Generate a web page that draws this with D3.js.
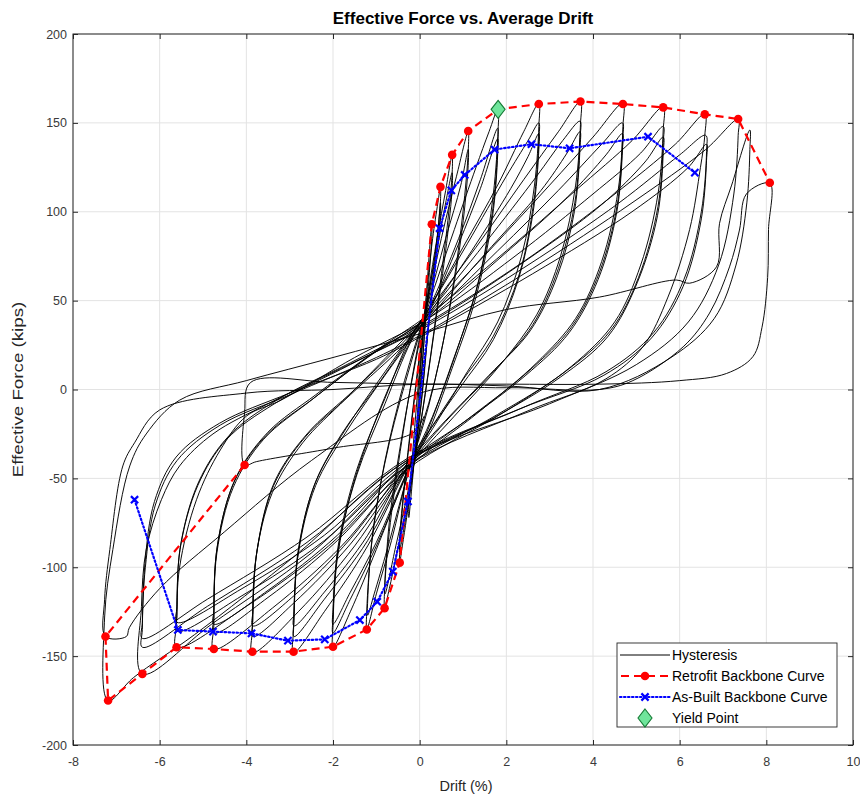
<!DOCTYPE html>
<html><head><meta charset="utf-8">
<script src="https://cdn.jsdelivr.net/npm/d3@7"></script>
<style>
body{margin:0;background:#fff}
svg{display:block}
text{font-family:"Liberation Sans",Arial,Helvetica,sans-serif}
</style>
</head><body>
<svg id="chart" width="860" height="796"></svg>
<script>
// ---------- data ----------
const xTicks = [-8,-6,-4,-2,0,2,4,6,8,10];
const yTicks = [-200,-150,-100,-50,0,50,100,150,200];

const retrofitDrift = [-4.04,-7.25,-7.19,-6.40,-5.61,-4.75,-3.86,-2.91,-2.00,-1.22,-0.81,-0.46,0.28,0.48,0.75,1.12,1.81,2.75,3.71,4.69,5.62,6.58,7.35,8.08];
const retrofitForce = [-42.5,-139,-175,-160,-145,-146,-147.5,-147.5,-144.7,-135,-123,-97.4,93,114,132,145.4,157.6,160.6,162,160.6,158.7,154.8,152.2,116.3];

const asBuiltDrift = [-6.58,-5.58,-4.77,-3.88,-3.04,-2.19,-1.38,-0.98,-0.62,-0.27,0.46,0.73,1.04,1.73,2.58,3.46,5.27,6.35];
const asBuiltForce = [-62,-135.3,-136.2,-137.2,-141.3,-140.6,-129.7,-119.4,-102.5,-63,90.7,112,120.7,135,138,135.7,142.2,122];

const yieldDrift = [1.81];
const yieldForce = [157.6];

const legendLabels = ["Hysteresis","Retrofit Backbone Curve","As-Built Backbone Curve","Yield Point"];

// hysteresis trace: [drift %, force kips], in loading order
const hysteresis = [
[0,0],[0.05,22],[0.1,38],[0.08,30],[0,8],[-0.06,-18],[-0.12,-42],[-0.1,-35],[0,-8],[0.08,20],
[0.18,62],[0.28,93],[0.28,86],[0.2,58],[0.05,12],[-0.1,-33],[-0.2,-60],[-0.25,-72],[-0.25,-65],
[-0.15,-32],[0,12],[0.15,52],[0.3,85],[0.42,105],[0.48,114],[0.48,106],
[0.38,80],[0.22,40],[0.05,-5],[-0.15,-45],[-0.3,-72],[-0.4,-88],[-0.46,-97],[-0.46,-89],
[-0.38,-62],[-0.2,-22],[0,18],[0.2,52],[0.4,84],[0.48,105],[0.48,98],
[0.38,74],[0.2,35],[0.03,-8],[-0.17,-48],[-0.32,-72],[-0.46,-90],[-0.46,-83],
[-0.38,-60],[-0.2,-20],[0,20],[0.2,55],[0.4,85],[0.6,112],[0.75,132],[0.75,122],
[0.65,95],[0.45,55],[0.2,10],[-0.05,-30],[-0.3,-65],[-0.55,-95],[-0.7,-112],[-0.81,-123],[-0.81,-113],
[-0.7,-80],[-0.45,-35],[-0.15,10],[0.1,42],[0.35,72],[0.6,105],[0.75,122],[0.75,113],
[0.62,82],[0.35,35],[0.05,-15],[-0.25,-55],[-0.55,-88],[-0.8,-115],[-0.8,-107],
[-0.68,-70],[-0.4,-25],[-0.1,15],[0.15,45],[0.5,85],[0.85,120],[1.12,145],[1.12,134],
[1.0,100],[0.75,55],[0.35,5],[-0.25,-45],[-0.65,-85],[-1.0,-115],[-1.22,-135],[-1.22,-124],
[-1.1,-85],[-0.8,-40],[-0.35,5],[0.15,45],[0.6,85],[0.95,115],[1.12,135],[1.12,126],
[0.98,90],[0.65,40],[0.2,-10],[-0.3,-50],[-0.75,-90],[-1.05,-115],[-1.2,-127],[-1.2,-119],
[-1.07,-78],[-0.7,-30],[-0.2,15],[0.2,47],[0.8,90],[1.3,125],[1.6,145],[1.81,158],[1.81,146],
[1.7,110],[1.4,65],[0.9,25],[0.3,-15],[-0.3,-47],[-1.0,-90],[-1.6,-125],[-2.0,-145],[-2.0,-133],
[-1.9,-95],[-1.55,-55],[-0.9,-10],[-0.2,28],[0.2,45],[0.9,85],[1.4,118],[1.8,147],[1.8,137],
[1.68,100],[1.3,55],[0.75,15],[0.15,-25],[-0.3,-48],[-1.0,-88],[-1.6,-118],[-2.0,-137],[-2.0,-128],
[-1.88,-90],[-1.45,-48],[-0.8,-8],[-0.2,27],[0.2,43],[0.9,82],[1.4,113],[1.8,141],[1.8,132],
[1.68,97],[1.3,52],[0.75,12],[0.15,-27],[-0.3,-47],[-1.0,-86],[-1.6,-114],[-2.0,-132],[-2.0,-124],
[-1.88,-88],[-1.45,-45],[-0.8,-5],[-0.2,30],[0.2,45],[1.0,80],[1.8,115],[2.4,145],[2.75,161],[2.75,148],
[2.65,115],[2.35,75],[1.8,38],[1.1,10],[0.3,-22],[-0.3,-45],[-1.2,-88],[-2.2,-125],[-2.91,-148],[-2.91,-135],
[-2.82,-95],[-2.45,-55],[-1.8,-25],[-0.9,5],[0.2,45],[1.1,82],[2.0,120],[2.5,140],[2.75,150],[2.75,140],
[2.63,105],[2.3,65],[1.7,30],[0.9,2],[-0.3,-44],[-1.2,-85],[-2.2,-118],[-2.9,-139],[-2.9,-130],
[-2.8,-92],[-2.4,-54],[-1.7,-24],[-0.8,8],[0.2,42],[1.2,78],[2.1,113],[2.5,131],[2.75,144],[2.75,135],
[2.62,100],[2.28,62],[1.7,28],[0.9,0],[-0.3,-42],[-1.2,-82],[-2.2,-114],[-2.9,-133],[-2.9,-125],
[-2.8,-90],[-2.4,-52],[-1.7,-22],[-0.8,10],[0.2,44],[1.3,80],[2.4,118],[3.2,145],[3.71,162],[3.71,149],
[3.6,115],[3.25,75],[2.7,42],[1.9,15],[0.8,-15],[-0.3,-45],[-1.5,-88],[-2.8,-125],[-3.86,-148],[-3.86,-135],
[-3.78,-95],[-3.4,-58],[-2.7,-30],[-1.7,-5],[-0.5,25],[0.2,43],[1.5,82],[2.7,120],[3.3,140],[3.7,151],[3.7,141],
[3.58,105],[3.2,68],[2.6,36],[1.7,10],[0.6,-18],[-0.3,-44],[-1.6,-87],[-2.9,-120],[-3.85,-139],[-3.85,-130],
[-3.76,-92],[-3.37,-54],[-2.65,-27],[-1.6,-3],[-0.4,24],[0.2,40],[1.5,76],[2.8,112],[3.4,133],[3.7,145],[3.7,136],
[3.57,100],[3.18,64],[2.55,33],[1.6,8],[0.5,-20],[-0.3,-42],[-1.6,-84],[-2.9,-116],[-3.85,-133],[-3.85,-125],
[-3.75,-90],[-3.35,-52],[-2.6,-25],[-1.5,0],[-0.4,26],[0.2,42],[1.6,78],[3.0,115],[4.0,142],[4.69,161],[4.69,148],
[4.58,112],[4.2,72],[3.6,40],[2.7,15],[1.4,-12],[-0.3,-45],[-1.8,-88],[-3.4,-123],[-4.75,-146],[-4.75,-133],
[-4.68,-92],[-4.3,-55],[-3.6,-28],[-2.5,-6],[-1.2,18],[0.15,40],[1.8,78],[3.2,112],[4.2,138],[4.68,150],[4.68,140],
[4.56,104],[4.15,66],[3.5,35],[2.5,10],[1.2,-15],[-0.3,-43],[-1.9,-85],[-3.5,-117],[-4.75,-137],[-4.75,-128],
[-4.68,-90],[-4.28,-52],[-3.55,-26],[-2.45,-5],[-1.1,20],[0.2,40],[1.9,75],[3.4,108],[4.3,132],[4.68,144],[4.68,135],
[4.55,100],[4.12,62],[3.45,32],[2.45,8],[1.1,-17],[-0.3,-41],[-1.9,-82],[-3.5,-113],[-4.75,-132],[-4.75,-124],
[-4.67,-88],[-4.25,-50],[-3.5,-24],[-2.4,-3],[-1.0,22],[0.2,42],[2.0,78],[3.6,112],[4.9,140],[5.62,159],[5.62,146],
[5.5,110],[5.1,70],[4.5,38],[3.5,13],[2.0,-12],[-0.3,-45],[-2.1,-88],[-4.0,-122],[-5.61,-145],[-5.61,-132],
[-5.54,-100],[-5.15,-62],[-4.6,-34],[-4.0,-15],[-3.2,-6],[-1.5,18],[0.2,40],[2.2,75],[4.0,110],[5.1,133],[5.62,148],[5.62,139],
[5.5,103],[5.05,63],[4.4,33],[3.3,9],[1.8,-14],[-0.3,-43],[-2.2,-85],[-4.1,-116],[-5.6,-136],[-5.6,-127],
[-5.53,-90],[-5.12,-54],[-4.45,-28],[-3.35,-8],[-1.6,14],[0.2,37],[2.3,70],[4.2,104],[5.2,128],[5.62,142],[5.62,133],
[5.49,98],[5.02,60],[4.35,30],[3.25,7],[1.7,-16],[-0.3,-41],[-2.2,-82],[-4.1,-112],[-5.6,-131],[-5.6,-122],
[-5.52,-88],[-5.1,-52],[-4.4,-26],[-3.3,-6],[-1.6,15],[0.2,38],[2.4,72],[4.4,108],[5.9,138],[6.58,155],[6.58,143],
[6.48,125],[6.23,90],[5.73,52],[5.15,24],[4.3,6],[2.5,-12],[-0.3,-43],[-2.5,-92],[-4.8,-132],[-6.4,-160],
[-6.42,-122],[-6.31,-90],[-5.96,-62],[-5.54,-43],[-4.77,-25],[-3.5,-8],[-1.8,12],[0.2,36],[2.5,70],[4.6,105],[6.0,132],[6.6,143],[6.62,134],
[6.5,100],[6.1,62],[5.4,32],[4.3,10],[2.4,-10],[-0.3,-40],[-2.6,-86],[-4.9,-122],[-6.4,-145],[-6.4,-135],
[-6.34,-98],[-6.12,-63],[-5.62,-38],[-4.62,-19],[-3.0,-2],[-1.0,17],[0.2,32],[2.6,65],[4.9,100],[6.2,125],[6.62,138],[6.62,129],
[6.5,96],[6.08,58],[5.35,29],[4.25,8],[2.3,-11],[-0.3,-39],[-2.6,-83],[-4.9,-118],[-6.4,-140],[-6.4,-131],
[-6.33,-100],[-6.1,-65],[-5.6,-40],[-4.6,-20],[-3.0,-3],[-1.0,18],[0.2,33],[2.6,68],[4.9,105],[6.6,135],[7.35,152],[7.35,143],
[7.25,110],[6.9,70],[6.2,38],[5.0,14],[3.0,-8],[-0.3,-40],[-2.8,-92],[-5.2,-138],[-6.6,-162],[-7.19,-175],
[-7.27,-128],[-7.08,-90],[-6.69,-43],[-6.31,-25],[-5.54,-6],[-4.0,5],[-2.0,18],[0.1,32],[2.0,45],[4.15,52],[5.92,61.6],[6.23,59.8],[6.85,69],[6.92,93.5],[7.2,115],[7.62,146],[7.62,135],
[7.55,105],[7.3,70],[6.8,40],[5.8,18],[4.15,0],[2.0,2],[0,3],[-2.0,0],[-4.0,-2],[-6.0,-11.5],[-6.58,-30],[-6.85,-43],[-7.15,-90],[-7.27,-118],[-7.25,-139],
[-6.77,-139],[-6.7,-134],[-6.0,-112],[-4.5,-80],[-2.5,-40],[0,-2],[2.0,1],[4.15,0],[4.92,5],[6.08,24],[6.69,43],[7.15,69],[7.38,89.7],[7.54,110],[8.08,116],
[8.05,90],[8.03,63],[7.9,35],[7.69,18.5],[7.08,9],[6.0,5],[4.15,3],[2.0,3],[0,3],[-2.0,4],[-3.9,4],[-4.04,-13],[-4.04,-42.5],
[-3.77,-40.6],[-2.0,-33],[-0.16,-24.5],[0.1,-15]
];

// ---------- layout ----------
const W = 860, H = 796;
const L = 73, R = 853, T = 34, B = 745;
const svg = d3.select("#chart");
svg.append("rect").attr("width",W).attr("height",H).attr("fill","#fff");

const x = d3.scaleLinear().domain([-8,10]).range([L,R]);
const y = d3.scaleLinear().domain([-200,200]).range([B,T]);

// grid
const grid = svg.append("g");
grid.selectAll(".gx").data(xTicks).join("line")
  .attr("x1",d=>x(d)).attr("x2",d=>x(d)).attr("y1",T).attr("y2",B)
  .attr("stroke","#e3e3e3").attr("stroke-width",1);
grid.selectAll(".gy").data(yTicks).join("line")
  .attr("y1",d=>y(d)).attr("y2",d=>y(d)).attr("x1",L).attr("x2",R)
  .attr("stroke","#e3e3e3").attr("stroke-width",1);

// clip
svg.append("clipPath").attr("id","clip").append("rect")
  .attr("x",L).attr("y",T).attr("width",R-L).attr("height",B-T);
const plot = svg.append("g").attr("clip-path","url(#clip)");

// hysteresis
const hLine = d3.line().x(d=>x(d[0])).y(d=>y(d[1])).curve(d3.curveCatmullRom.alpha(0.5));
plot.append("path").datum(hysteresis).attr("d",hLine)
  .attr("fill","none").attr("stroke","#000").attr("stroke-width",0.95).attr("stroke-linejoin","round");

// backbones
const retro = retrofitDrift.map((d,i)=>[d,retrofitForce[i]]);
const asb = asBuiltDrift.map((d,i)=>[d,asBuiltForce[i]]);
const straight = d3.line().x(d=>x(d[0])).y(d=>y(d[1]));

plot.append("path").datum(retro).attr("d",straight)
  .attr("fill","none").attr("stroke","#ff0000").attr("stroke-width",2.2)
  .attr("stroke-dasharray","8,5");
plot.selectAll(".rc").data(retro).join("circle")
  .attr("cx",d=>x(d[0])).attr("cy",d=>y(d[1])).attr("r",4.3).attr("fill","#ff0000");

plot.append("path").datum(asb).attr("d",straight)
  .attr("fill","none").attr("stroke","#0000ff").attr("stroke-width",2.2)
  .attr("stroke-dasharray","1.5,2.5").attr("stroke-linecap","round");
const xm = 3.6;
plot.selectAll(".bx").data(asb).join("path")
  .attr("d",d=>{const cx=x(d[0]),cy=y(d[1]);return `M${cx-xm},${cy-xm}L${cx+xm},${cy+xm}M${cx-xm},${cy+xm}L${cx+xm},${cy-xm}`;})
  .attr("stroke","#0000ff").attr("stroke-width",2.2).attr("fill","none");

// yield point
const diamond = (cx,cy,w,h)=>`M${cx},${cy-h}L${cx+w},${cy}L${cx},${cy+h}L${cx-w},${cy}Z`;
plot.selectAll(".yp").data(yieldDrift.map((d,i)=>[d,yieldForce[i]])).join("path")
  .attr("d",d=>diamond(x(d[0]),y(d[1]),7,9))
  .attr("fill","#6fe59b").attr("stroke","#157a35").attr("stroke-width",1.1);

// axes (ticks inward on all four sides)
const axCol = "#262626";
const fmt = d => String(d);
const gB = svg.append("g").attr("transform",`translate(0,${B})`)
  .call(d3.axisBottom(x).tickValues(xTicks).tickSize(-5).tickPadding(12).tickFormat(fmt));
const gL = svg.append("g").attr("transform",`translate(${L},0)`)
  .call(d3.axisLeft(y).tickValues(yTicks).tickSize(-5).tickPadding(6).tickFormat(fmt));
const gT = svg.append("g").attr("transform",`translate(0,${T})`)
  .call(d3.axisTop(x).tickValues(xTicks).tickSize(-5).tickFormat(""));
const gR = svg.append("g").attr("transform",`translate(${R},0)`)
  .call(d3.axisRight(y).tickValues(yTicks).tickSize(-5).tickFormat(""));
[gB,gL,gT,gR].forEach(g=>{
  g.select(".domain").remove();
  g.selectAll(".tick line").attr("stroke",axCol).attr("stroke-width",1);
  g.selectAll("text").attr("fill","#3a3a3a").style("font-size","12.5px")
   .style("font-family","'Liberation Sans',Arial,sans-serif");
});
svg.append("rect").attr("x",L).attr("y",T).attr("width",R-L).attr("height",B-T)
  .attr("fill","none").attr("stroke",axCol).attr("stroke-width",1);

// titles
svg.append("text").attr("x",(L+R)/2).attr("y",24).attr("text-anchor","middle")
  .style("font-size","17px").style("font-weight","bold").attr("fill","#000")
  .text("Effective Force vs. Average Drift");
svg.append("text").attr("x",(L+R)/2+3).attr("y",791).attr("text-anchor","middle")
  .style("font-size","14.5px").attr("fill","#262626").text("Drift (%)");
svg.append("text").attr("transform",`translate(23,${(T+B)/2}) rotate(-90) scale(1.25,1)`).attr("text-anchor","middle")
  .style("font-size","15px").attr("fill","#262626")
  .text("Effective Force (kips)");

// legend
const lg = svg.append("g");
const lx0 = 617, ly0 = 643, lw = 220, lh = 84;
lg.append("rect").attr("x",lx0).attr("y",ly0).attr("width",lw).attr("height",lh)
  .attr("fill","#fff").attr("stroke",axCol).attr("stroke-width",0.9);
const rowY = [655,676,697,718];
const sx1 = 620, sx2 = 670, smid = 645;
lg.append("line").attr("x1",sx1).attr("x2",sx2).attr("y1",rowY[0]).attr("y2",rowY[0])
  .attr("stroke","#000").attr("stroke-width",1);
lg.append("line").attr("x1",sx1).attr("x2",sx2).attr("y1",rowY[1]).attr("y2",rowY[1])
  .attr("stroke","#ff0000").attr("stroke-width",2.2).attr("stroke-dasharray","8,5").attr("stroke-dashoffset",-1);
lg.append("circle").attr("cx",smid).attr("cy",rowY[1]).attr("r",4.3).attr("fill","#ff0000");
lg.append("line").attr("x1",sx1).attr("x2",sx2).attr("y1",rowY[2]).attr("y2",rowY[2])
  .attr("stroke","#0000ff").attr("stroke-width",2.2).attr("stroke-dasharray","1.5,2.5").attr("stroke-linecap","round");
lg.append("path").attr("d",`M${smid-xm},${rowY[2]-xm}L${smid+xm},${rowY[2]+xm}M${smid-xm},${rowY[2]+xm}L${smid+xm},${rowY[2]-xm}`)
  .attr("stroke","#0000ff").attr("stroke-width",2.2);
lg.append("path").attr("d",diamond(smid,rowY[3],7,9))
  .attr("fill","#6fe59b").attr("stroke","#157a35").attr("stroke-width",1.1);
lg.selectAll(".lt").data(legendLabels).join("text")
  .attr("x",672).attr("y",(d,i)=>rowY[i]+5)
  .style("font-size","14px").attr("fill","#000").text(d=>d);
</script>
</body></html>
